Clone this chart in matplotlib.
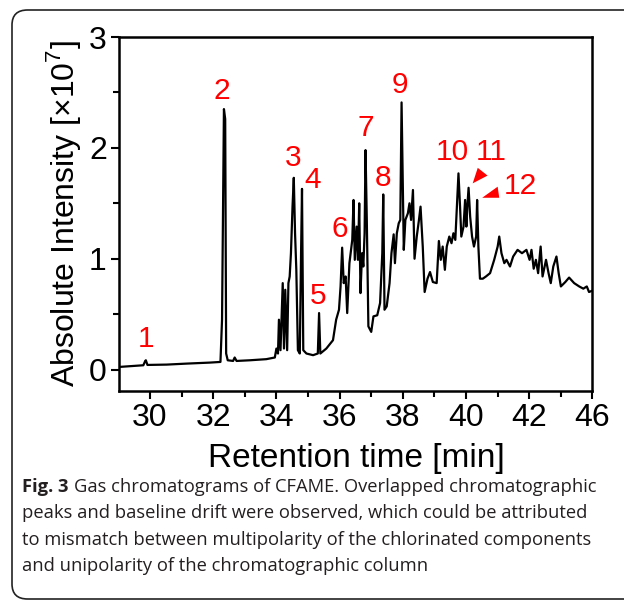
import numpy as np
import matplotlib
matplotlib.use("Agg")
import matplotlib.pyplot as plt
from matplotlib.patches import FancyBboxPatch, Polygon
from matplotlib.ticker import MultipleLocator

plt.rcParams['font.family'] = ['Liberation Sans', 'DejaVu Sans']
plt.rcParams['mathtext.fontset'] = 'custom'
plt.rcParams['mathtext.rm'] = 'Liberation Sans'

# retention time [min] and intensity [x1e7]
rt = [29.03, 29.47, 29.79, 29.85, 29.87, 29.92, 30.53, 31.16, 31.89, 32.23,
      32.28, 32.34, 32.38, 32.41, 32.46, 32.63, 32.68, 32.74, 33.16, 33.68,
      33.95, 34.00, 34.05, 34.08, 34.13, 34.20, 34.24, 34.28, 34.34, 34.38,
      34.42, 34.46, 34.51, 34.55, 34.59, 34.63, 34.68, 34.74, 34.78, 34.81,
      34.85, 34.95, 35.16, 35.31, 35.35, 35.39, 35.58, 35.79, 35.89, 35.98,
      36.03, 36.08, 36.13, 36.19, 36.24, 36.31, 36.36, 36.40, 36.44, 36.48,
      36.54, 36.58, 36.62, 36.66, 36.71, 36.75, 36.79, 36.82, 36.86, 36.91,
      37.00, 37.07, 37.19, 37.28, 37.35, 37.38, 37.42, 37.49, 37.58, 37.64,
      37.71, 37.75, 37.81, 37.87, 37.92, 37.96, 38.00, 38.03, 38.08, 38.16,
      38.21, 38.26, 38.32, 38.37, 38.44, 38.51, 38.56, 38.63, 38.69, 38.78,
      38.86, 38.95, 39.07, 39.14, 39.20, 39.26, 39.33, 39.39, 39.47, 39.54,
      39.60, 39.66, 39.71, 39.76, 39.81, 39.85, 39.92, 39.97, 40.01, 40.04,
      40.08, 40.13, 40.19, 40.25, 40.32, 40.35, 40.39, 40.44, 40.53, 40.63,
      40.76, 40.89, 41.00, 41.05, 41.12, 41.21, 41.28, 41.39, 41.49, 41.63,
      41.77, 41.91, 42.01, 42.07, 42.14, 42.21, 42.28, 42.36, 42.42, 42.53,
      42.61, 42.68, 42.76, 42.86, 42.93, 43.00, 43.14, 43.26, 43.42, 43.58,
      43.71, 43.82, 43.89, 43.98]
intensity = [0.024, 0.033, 0.039, 0.078, 0.084, 0.042, 0.045, 0.054, 0.063, 0.069,
             0.45, 2.35, 2.26, 0.145, 0.084, 0.078, 0.109, 0.078, 0.084, 0.094,
             0.109, 0.19, 0.145, 0.45, 0.175, 0.78, 0.19, 0.72, 0.175, 0.78,
             0.84, 1.05, 1.47, 1.73, 1.23, 0.90, 0.175, 0.145, 1.05, 1.63,
             0.175, 0.145, 0.13, 0.145, 0.51, 0.145, 0.19, 0.265, 0.45, 0.54,
             0.75, 1.10, 0.78, 0.84, 0.51, 0.96, 1.08, 1.17, 1.53, 0.99,
             1.29, 0.99, 1.50, 0.69, 1.05, 0.93, 1.23, 1.98, 1.35, 0.39,
             0.34, 0.48, 0.49, 0.60, 1.05, 1.58, 0.54, 0.57, 0.78, 1.05,
             1.22, 0.96, 1.23, 1.32, 1.35, 2.41, 1.65, 1.08, 1.35, 1.41,
             1.50, 1.35, 1.62, 1.00, 1.20, 1.35, 1.47, 1.11, 0.70, 0.82,
             0.88, 0.79, 0.78, 1.16, 0.99, 1.11, 0.90, 1.11, 1.20, 1.14,
             1.23, 1.17, 1.47, 1.77, 1.47, 1.20, 1.29, 1.53, 1.29, 1.47,
             1.64, 1.38, 1.20, 1.11, 1.20, 1.53, 1.11, 0.82, 0.82, 0.84,
             0.87, 0.99, 1.11, 1.20, 1.05, 0.96, 0.99, 0.93, 1.02, 1.08,
             1.05, 1.08, 0.99, 1.08, 0.91, 0.99, 0.87, 1.11, 0.84, 0.99,
             0.87, 0.78, 0.93, 1.02, 0.87, 0.75, 0.79, 0.83, 0.78, 0.75,
             0.73, 0.75, 0.70, 0.71]

# peak numbers and where they sit
peak_labels = ['1', '2', '3', '4', '5', '6', '7', '8', '9', '10', '11', '12']
label_x = [29.87, 32.27, 34.52, 35.15, 35.31, 36.00, 36.82, 37.36, 37.90, 39.57, 40.80, 41.71]
label_y = [0.28, 2.51, 1.91, 1.71, 0.66, 1.27, 2.18, 1.73, 2.57, 1.96, 1.96, 1.66]

# the two little red pointers for peaks 11 and 12
arrow11 = [(40.21, 1.68), (40.37, 1.82), (40.68, 1.75)]
arrow12 = [(40.51, 1.55), (41.05, 1.55), (41.00, 1.65)]

xtick_pos = [30, 32, 34, 36, 38, 40, 42, 44]
xtick_txt = ['30', '32', '34', '36', '38', '40', '42', '46']

caption_lines = [
    "Gas chromatograms of CFAME. Overlapped chromatographic",
    "peaks and baseline drift were observed, which could be attributed",
    "to mismatch between multipolarity of the chlorinated components",
    "and unipolarity of the chromatographic column",
]

fig = plt.figure(figsize=(6.24, 6.01), dpi=100)
ax = fig.add_axes([0.1912, 0.35, 0.7583, 0.5884])

ax.plot(rt, intensity, color='black', lw=1.6)

for t, x, y in zip(peak_labels, label_x, label_y):
    ax.text(x, y, t, color='#ff0000', fontsize=21.5, ha='center', va='center')
ax.add_patch(Polygon(arrow11, closed=True, color='#ff0000', lw=0))
ax.add_patch(Polygon(arrow12, closed=True, color='#ff0000', lw=0))

ax.set_xlim(29.03, 44.0)
ax.set_ylim(-0.19, 3.0)
ax.set_xticks(xtick_pos)
ax.set_xticklabels(xtick_txt)
ax.xaxis.set_minor_locator(MultipleLocator(1))
ax.set_yticks([0, 1, 2, 3])
ax.yaxis.set_minor_locator(MultipleLocator(0.5))
ax.tick_params(which='both', direction='out', width=1.5, labelsize=23, pad=3)
ax.tick_params(which='major', length=6)
ax.tick_params(which='minor', length=4)
for s in ax.spines.values():
    s.set_linewidth(1.8)

ax.set_xlabel('Retention time [min]', fontsize=24, labelpad=7)
ax.set_ylabel(r'Absolute Intensity [×10$^{\mathrm{7}}$]', fontsize=23, labelpad=4)

# rounded frame around the whole figure panel
frame = FancyBboxPatch((12 / 624, 2 / 601), 700 / 624, 589 / 601,
                       boxstyle='round,pad=0,rounding_size=0.025',
                       transform=fig.transFigure, fill=False,
                       ec='#222222', lw=1.2, clip_on=False)
fig.add_artist(frame)

# caption
cap_font = ['Open Sans', 'DejaVu Sans']
cap_size = 13.25
y0 = 1 - 487 / 601
dy = 26.3 / 601
fig.canvas.draw()
bold = fig.text(22 / 624, y0, 'Fig. 3', fontsize=cap_size, fontweight='bold',
                family=cap_font, va='center', color='#231f20')
r = fig.canvas.get_renderer()
bb = bold.get_window_extent(renderer=r)
fig.text((bb.x1 + 5) / 624, y0, caption_lines[0], fontsize=cap_size,
         family=cap_font, va='center', color='#231f20')
for i, line in enumerate(caption_lines[1:], start=1):
    fig.text(22 / 624, y0 - i * dy, line, fontsize=cap_size,
             family=cap_font, va='center', color='#231f20')

fig.savefig('out.png', dpi=100)
